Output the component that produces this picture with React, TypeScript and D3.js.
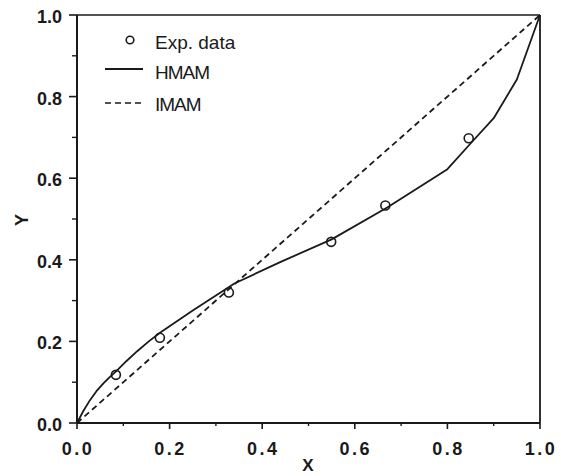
import React from "react";
import * as d3 from "d3";

const expX = [0.084, 0.179, 0.328, 0.549, 0.666, 0.846];
const expY = [0.118, 0.209, 0.32, 0.444, 0.533, 0.698];

const hmamX = [0, 0.014, 0.028, 0.042, 0.057, 0.07, 0.085, 0.107, 0.13, 0.155, 0.18, 0.25, 0.34, 0.44, 0.55, 0.67, 0.8, 0.85, 0.9, 0.95, 1.0];
const hmamY = [0, 0.03, 0.056, 0.078, 0.097, 0.112, 0.127, 0.152, 0.176, 0.2, 0.222, 0.276, 0.342, 0.395, 0.45, 0.528, 0.622, 0.685, 0.747, 0.842, 1.0];

const imamX = [0, 1];
const imamY = [0, 1];

const majorTicks = [0, 0.2, 0.4, 0.6, 0.8, 1.0];
const minorTicks = [0.1, 0.3, 0.5, 0.7, 0.9];

export default function App() {
  const W = 561, H = 476;
  const x = d3.scaleLinear().domain([0, 1]).range([77, 540]);
  const y = d3.scaleLinear().domain([0, 1]).range([423, 15]);
  const line = d3.line<[number, number]>().x(d => x(d[0])).y(d => y(d[1]));
  const hmamPath = line(hmamX.map((v, i) => [v, hmamY[i]] as [number, number]));
  const imamPath = line(imamX.map((v, i) => [v, imamY[i]] as [number, number]));
  const ink = "#1a1a1a";
  const fmt = d3.format(".1f");

  return (
    <svg width={W} height={H} style={{ position: "absolute", left: 0, top: 0, background: "#fff" }}
      fontFamily="'Liberation Sans', Arial, sans-serif">
      {/* frame */}
      <line x1={x(0)} x2={x(1)} y1={y(1)} y2={y(1)} stroke={ink} strokeWidth={1.6} />
      <line x1={x(1)} x2={x(1)} y1={y(1)} y2={y(0)} stroke={ink} strokeWidth={1.8} />
      <line x1={x(0)} x2={x(1)} y1={y(0)} y2={y(0)} stroke={ink} strokeWidth={2} />
      <line x1={x(0)} x2={x(0)} y1={y(1)} y2={y(0)} stroke={ink} strokeWidth={2} />
      {/* x ticks */}
      {majorTicks.map(t => (
        <g key={"xm" + t}>
          <line x1={x(t)} x2={x(t)} y1={y(0)} y2={y(0) + 6} stroke={ink} strokeWidth={1.6} />
          <text x={x(t) + 1} y={455} textAnchor="middle" fontSize={18} fontWeight="bold" letterSpacing={2.5} fill={ink}>
            {fmt(t)}
          </text>
        </g>
      ))}
      {minorTicks.map(t => (
        <line key={"xn" + t} x1={x(t)} x2={x(t)} y1={y(0)} y2={y(0) + 3} stroke={ink} strokeWidth={1.4} />
      ))}
      {/* y ticks */}
      {majorTicks.map(t => (
        <g key={"ym" + t}>
          <line x1={x(0) - 8} x2={x(0)} y1={y(t)} y2={y(t)} stroke={ink} strokeWidth={1.6} />
          <text x={62} y={y(t) + 8} textAnchor="end" fontSize={18} fontWeight="bold" fill={ink}>
            {fmt(t)}
          </text>
        </g>
      ))}
      {minorTicks.map(t => (
        <line key={"yn" + t} x1={x(0) - 5} x2={x(0)} y1={y(t)} y2={y(t)} stroke={ink} strokeWidth={1.4} />
      ))}
      {/* axis titles */}
      <text x={308} y={471} textAnchor="middle" fontSize={17} fontWeight="bold" fill={ink}>X</text>
      <text transform="translate(28,220) rotate(-90)" textAnchor="middle" fontSize={18} fontWeight="bold" fill={ink}>Y</text>
      {/* series */}
      <path d={imamPath || ""} fill="none" stroke={ink} strokeWidth={1.8} strokeDasharray="6,4" />
      <path d={hmamPath || ""} fill="none" stroke={ink} strokeWidth={1.8} strokeLinejoin="round" />
      {expX.map((v, i) => (
        <circle key={"e" + i} cx={x(v)} cy={y(expY[i])} r={4.5} fill="none" stroke={ink} strokeWidth={1.6} />
      ))}
      {/* legend */}
      <circle cx={130} cy={40} r={3.8} fill="none" stroke={ink} strokeWidth={1.6} />
      <text x={155} y={49} fontSize={19} fill={ink}>Exp. data</text>
      <line x1={105} x2={143} y1={69} y2={69} stroke={ink} strokeWidth={1.8} />
      <text x={155} y={79} fontSize={19} fill={ink} letterSpacing={-1}>HMAM</text>
      <line x1={105} x2={143} y1={103} y2={103} stroke={ink} strokeWidth={1.6} strokeDasharray="6,4" />
      <text x={155} y={111} fontSize={19} fill={ink} letterSpacing={-1}>IMAM</text>
    </svg>
  );
}
